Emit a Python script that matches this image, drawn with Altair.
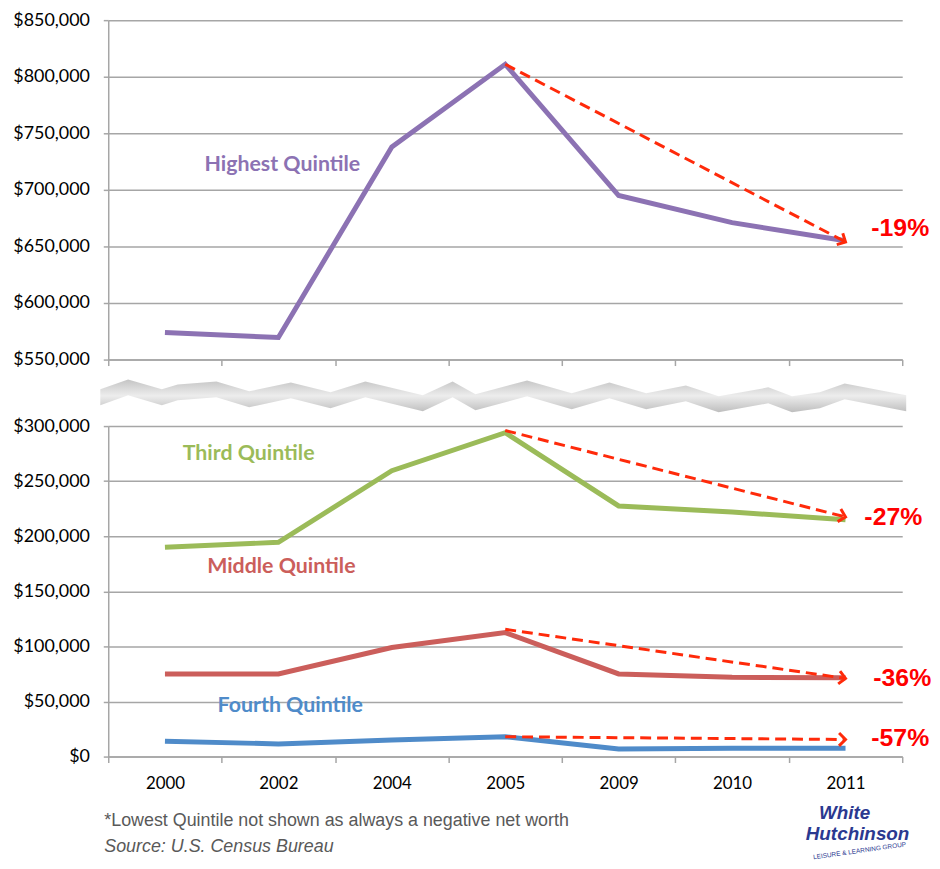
import math
import altair as alt
import pandas as pd

# ---------------- data ----------------
years = ["2000", "2002", "2004", "2005", "2009", "2010", "2011"]
highest = [574000, 569500, 738000, 811000, 695000, 671000, 655000]
third = [190000, 194500, 259500, 294000, 227500, 222000, 215000]
middle = [75000, 75000, 99000, 112500, 75000, 72000, 71500]
fourth = [14000, 11500, 15000, 18000, 6800, 7500, 7500]

series_names = ["Highest Quintile", "Third Quintile", "Middle Quintile", "Fourth Quintile"]
series_colors = ["#8C72B3", "#9BBB59", "#CB5E5B", "#4F8BC9"]

# change arrows (2005 -> 2011)
arrow_from = "2005"
arrow_to = "2011"
arrow_start = [811000, 296000, 115500, 18000]
arrow_end = [654000, 217500, 71000, 15500]
pct_labels = ["-19%", "-27%", "-36%", "-57%"]
pct_values = [666000, 217000, 71000, 16500]

# series label anchors
label_year = ["2002", "2002", "2002", "2002"]
label_value = [722000, 274500, 172000, 45500]

# axis break ribbon (decorative)
break_x = [100, 128, 162, 178, 217, 250, 292, 332, 367, 425, 455, 478, 530, 575,
           613, 650, 690, 723, 773, 797, 825, 850, 912]
break_mid = [398, 388, 398, 393, 390, 400, 391, 401, 390, 404, 390, 403, 389, 402,
             391, 402, 394, 405, 396, 405, 401, 392, 404]

footnote = "*Lowest Quintile not shown as always a negative net worth"
source = "Source: U.S. Census Bureau"

# ---------------- styling ----------------
W = 800
H_TOP = 342
H_BOT = 333
GRAY = "#A6A6A6"
RED = "#FF2A0A"
FONT = "Lato"

color_scale = alt.Scale(domain=series_names, range=series_colors)

values_all = {"Highest Quintile": highest, "Third Quintile": third,
              "Middle Quintile": middle, "Fourth Quintile": fourth}


def line_df(names):
    rows = []
    for n in names:
        for y, v in zip(years, values_all[n]):
            rows.append({"year": y, "value": v, "series": n})
    return pd.DataFrame(rows)


def arrow_df(idx, span, height):
    rows, heads = [], []
    dx = (years.index(arrow_to) - years.index(arrow_from)) * W / len(years)
    for i in idx:
        rows.append({"year": arrow_from, "value": arrow_start[i], "grp": i})
        rows.append({"year": arrow_to, "value": arrow_end[i], "grp": i})
        dy = (arrow_start[i] - arrow_end[i]) / span * height
        ang = math.degrees(math.atan2(dy, dx)) % 360
        heads.append({"year": arrow_to, "value": arrow_end[i], "angle": ang})
    return pd.DataFrame(rows), pd.DataFrame(heads)


def xenc(show_labels):
    return alt.X(
        "year:O", sort=years, bandPosition=0.5,
        scale=alt.Scale(type="band", domain=years, paddingInner=0, paddingOuter=0),
        axis=alt.Axis(title=None, labels=show_labels, tickBand="extent", tickSize=6,
                      tickColor=GRAY, domainColor=GRAY, domainWidth=1.5, tickWidth=1.5,
                      labelFont=FONT, labelFontSize=17, labelColor="#000000",
                      labelPadding=13, labelAngle=0, grid=False),
    )


def yenc(domain, vals):
    return alt.Y(
        "value:Q",
        scale=alt.Scale(domain=domain, nice=False, zero=False),
        axis=alt.Axis(title=None, values=vals, format="$,.0f", grid=True,
                      gridColor=GRAY, gridWidth=1.5, domainColor=GRAY, domainWidth=1.5,
                      tickColor=GRAY, tickWidth=1.5, tickSize=5, labelPadding=14,
                      labelFont=FONT, labelFontSize=18, labelColor="#000000"),
    )


def panel(names, idx, domain, vals, height, show_labels):
    span = domain[1] - domain[0]
    x = xenc(show_labels)
    y = yenc(domain, vals)
    lines = alt.Chart(line_df(names)).mark_line(strokeWidth=5, strokeCap="butt").encode(
        x=x, y=y,
        color=alt.Color("series:N", scale=color_scale, legend=None),
        detail="series:N",
    )
    adf, hdf = arrow_df(idx, span, height)
    arrows = alt.Chart(adf).mark_line(color=RED, strokeWidth=3, strokeDash=[11, 6]).encode(
        x=x, y=y, detail="grp:N")
    heads = alt.Chart(hdf).mark_point(
        shape="M -1 -1 L 0 0 L -1 1", filled=False, color=RED, strokeWidth=3,
        size=170, opacity=1).encode(x=x, y=y, angle=alt.Angle("angle:Q", scale=None))
    layers = [lines, arrows, heads]
    label_dx = {0: 4, 1: -30, 2: 3, 3: 12}
    pct_dx = {0: 26, 1: 19, 2: 28, 3: 26}
    for i in idx:
        ldf = pd.DataFrame([{"year": label_year[i], "value": label_value[i],
                             "txt": series_names[i]}])
        layers.append(alt.Chart(ldf).mark_text(
            font=FONT, fontSize=21.5, fontWeight="bold", color=series_colors[i],
            align="center", baseline="middle", dx=label_dx[i]).encode(x=x, y=y, text="txt:N"))
        pdf = pd.DataFrame([{"year": arrow_to, "value": pct_values[i], "txt": pct_labels[i]}])
        layers.append(alt.Chart(pdf).mark_text(
            font="Liberation Sans", fontSize=25, fontWeight="bold", color="#FF0000",
            align="left", baseline="middle", dx=pct_dx[i]).encode(x=x, y=y, text="txt:N"))
    return alt.layer(*layers).properties(width=W, height=height)


top = panel(["Highest Quintile"], [0], [550000, 850000],
            list(range(550000, 850001, 50000)), H_TOP, False)

bottom = panel(["Third Quintile", "Middle Quintile", "Fourth Quintile"], [1, 2, 3],
               [0, 300000], list(range(0, 300001, 50000)), H_BOT, True)

one = pd.DataFrame([{"a": 1}])
notes = [
    alt.Chart(one).mark_text(font="Liberation Sans", fontSize=18, color="#595959",
                             align="left", baseline="middle", text=footnote).encode(
        x=alt.value(-4), y=alt.value(398)),
    alt.Chart(one).mark_text(font="Liberation Sans", fontSize=18, color="#595959",
                             fontStyle="italic", align="left", baseline="middle",
                             text=source).encode(x=alt.value(-4), y=alt.value(424)),
    alt.Chart(one).mark_text(font="Liberation Sans", fontSize=19, color="#2B3990",
                             fontStyle="italic", fontWeight="bold", align="center",
                             baseline="middle", text="White").encode(
        x=alt.value(742), y=alt.value(390)),
    alt.Chart(one).mark_text(font="Liberation Sans", fontSize=19, color="#2B3990",
                             fontStyle="italic", fontWeight="bold", align="center",
                             baseline="middle", text="Hutchinson").encode(
        x=alt.value(755), y=alt.value(411)),
    alt.Chart(one).mark_text(font="Liberation Sans", fontSize=6.5, color="#2B3990",
                             align="center", baseline="middle", angle=352,
                             text="LEISURE & LEARNING GROUP").encode(
        x=alt.value(757), y=alt.value(428)),
]
bottom = alt.layer(bottom, *notes).properties(width=W, height=H_BOT)

# break ribbon between panels
bdf = pd.DataFrame({"bx": break_x,
                    "top": [m - 8 for m in break_mid],
                    "bot": [m + 8 for m in break_mid]})
grad = alt.Gradient(gradient="linear", x1=0, y1=0, x2=0, y2=1,
                    stops=[alt.GradientStop(color="#C4C4C4", offset=0),
                           alt.GradientStop(color="#EDEDED", offset=0.5),
                           alt.GradientStop(color="#BEBEBE", offset=1)])
ribbon = alt.Chart(bdf).mark_area(fill=grad, interpolate="linear").encode(
    x=alt.X("bx:Q", scale=alt.Scale(domain=[108, 908], nice=False, zero=False), axis=None),
    y=alt.Y("top:Q", scale=alt.Scale(domain=[418, 369], nice=False, zero=False), axis=None),
    y2="bot:Q",
).properties(width=W, height=49)

chart = alt.vconcat(top, ribbon, bottom, spacing=0).properties(
    padding={"left": 4, "top": 0, "right": 0, "bottom": 0},
    background="white",
).configure_view(strokeWidth=0, stroke=None)

chart.save("out.html", embed_options={"renderer": "svg", "actions": False})
